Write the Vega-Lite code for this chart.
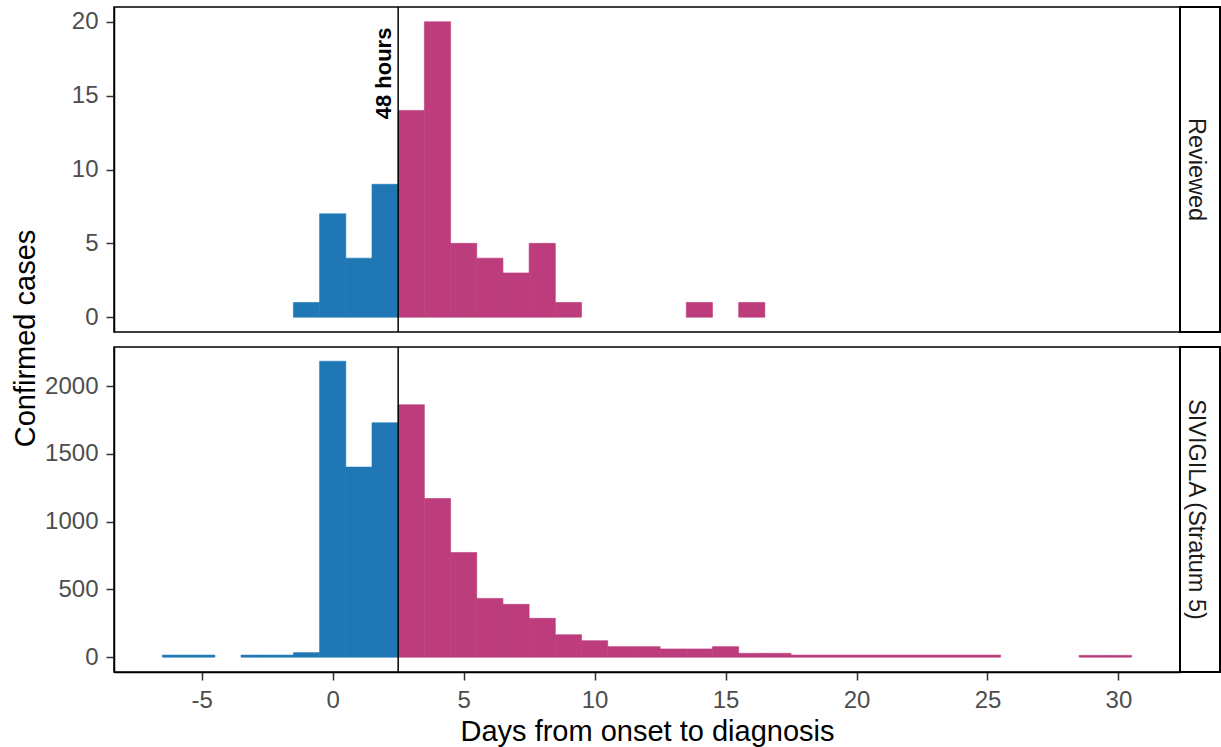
{
  "$schema": "https://vega.github.io/schema/vega-lite/v6.json",
  "background": "white",
  "padding": {"left": 10, "top": 5, "right": 0, "bottom": 0},
  "datasets": {
    "reviewed": [
      {"day": -1, "count": 1}, {"day": 0, "count": 7}, {"day": 1, "count": 4}, {"day": 2, "count": 9},
      {"day": 3, "count": 14}, {"day": 4, "count": 20}, {"day": 5, "count": 5}, {"day": 6, "count": 4},
      {"day": 7, "count": 3}, {"day": 8, "count": 5}, {"day": 9, "count": 1}, {"day": 14, "count": 1},
      {"day": 16, "count": 1}
    ],
    "sivigila": [
      {"day": -6, "count": 16}, {"day": -5, "count": 16}, {"day": -3, "count": 16}, {"day": -2, "count": 16},
      {"day": -1, "count": 34}, {"day": 0, "count": 2184}, {"day": 1, "count": 1403}, {"day": 2, "count": 1730},
      {"day": 3, "count": 1863}, {"day": 4, "count": 1171}, {"day": 5, "count": 773}, {"day": 6, "count": 434},
      {"day": 7, "count": 390}, {"day": 8, "count": 287}, {"day": 9, "count": 166}, {"day": 10, "count": 122},
      {"day": 11, "count": 78}, {"day": 12, "count": 78}, {"day": 13, "count": 61}, {"day": 14, "count": 61},
      {"day": 15, "count": 78}, {"day": 16, "count": 29}, {"day": 17, "count": 29}, {"day": 18, "count": 16},
      {"day": 19, "count": 16}, {"day": 20, "count": 16}, {"day": 21, "count": 16}, {"day": 22, "count": 16},
      {"day": 23, "count": 16}, {"day": 24, "count": 16}, {"day": 25, "count": 16}, {"day": 29, "count": 14},
      {"day": 30, "count": 14}
    ],
    "strips": [{"panel": "Reviewed"}, {"panel": "SIVIGILA (Stratum 5)"}],
    "note": [{"label": "48 hours"}]
  },
  "columns": 2,
  "spacing": {"row": 15, "column": 0},
  "bounds": "flush",
  "concat": [
    {
      "width": 1066,
      "height": 325,
      "layer": [
        {
          "data": {"name": "reviewed"},
          "transform": [{"bin": {"step": 1, "anchor": 0.5, "nice": false, "extent": [-7.5, 31.5]}, "field": "day", "as": ["d0", "d1"]}],
          "mark": {"type": "rect", "strokeWidth": 0.6},
          "encoding": {
            "x": {"field": "d0", "type": "quantitative", "scale": {"domain": [-8.35, 32.35], "nice": false, "zero": false}, "axis": null},
            "x2": {"field": "d1"},
            "y": {"field": "count", "type": "quantitative", "scale": {"domain": [-1, 21], "nice": false, "zero": false},
                  "axis": {"values": [0, 5, 10, 15, 20], "format": "d", "title": "Confirmed cases", "titleY": 331, "titleX": -80, "titleBaseline": "alphabetic", "titleAngle": 270}},
            "y2": {"datum": 0},
            "color": {"condition": {"test": "datum.d0 < 2.5", "value": "#1f78b4"}, "value": "#bc3c7c"},
            "stroke": {"condition": {"test": "datum.d0 < 2.5", "value": "#1f78b4"}, "value": "#bc3c7c"}
          }
        },
        {
          "data": {"name": "note"},
          "mark": {"type": "rule", "color": "black", "strokeWidth": 1.5},
          "encoding": {"x": {"datum": 2.5, "type": "quantitative"}}
        },
        {
          "data": {"name": "note"},
          "mark": {"type": "text", "angle": 270, "align": "center", "baseline": "alphabetic", "dy": -7, "fontSize": 22, "fontWeight": "bold", "color": "black", "font": "Liberation Sans"},
          "encoding": {
            "x": {"datum": 2.5, "type": "quantitative"},
            "y": {"datum": 16.5, "type": "quantitative"},
            "text": {"field": "label"}
          }
        }
      ]
    },
    {
      "width": 40,
      "height": 325,
      "view": {"stroke": "black", "strokeWidth": 2},
      "data": {"name": "strips"},
      "transform": [{"filter": "datum.panel === 'Reviewed'"}],
      "mark": {"type": "text", "angle": 90, "fontSize": 23.5, "color": "#1a1a1a", "align": "center", "baseline": "middle", "dy": 4, "font": "Liberation Sans"},
      "encoding": {"text": {"field": "panel"}}
    },
    {
      "width": 1066,
      "height": 325,
      "layer": [
        {
          "data": {"name": "sivigila"},
          "transform": [{"bin": {"step": 1, "anchor": 0.5, "nice": false, "extent": [-7.5, 31.5]}, "field": "day", "as": ["d0", "d1"]}],
          "mark": {"type": "rect", "strokeWidth": 0.6},
          "encoding": {
            "x": {"field": "d0", "type": "quantitative", "scale": {"domain": [-8.35, 32.35], "nice": false, "zero": false},
                  "axis": {"values": [-5, 0, 5, 10, 15, 20, 25, 30], "labelExpr": "'' + datum.value", "title": "Days from onset to diagnosis", "titleY": 68, "titleBaseline": "alphabetic"}},
            "x2": {"field": "d1"},
            "y": {"field": "count", "type": "quantitative", "scale": {"domain": [-109, 2289], "nice": false, "zero": false},
                  "axis": {"values": [0, 500, 1000, 1500, 2000], "format": "d", "title": null}},
            "y2": {"datum": 0},
            "color": {"condition": {"test": "datum.d0 < 2.5", "value": "#1f78b4"}, "value": "#bc3c7c"},
            "stroke": {"condition": {"test": "datum.d0 < 2.5", "value": "#1f78b4"}, "value": "#bc3c7c"}
          }
        },
        {
          "data": {"name": "note"},
          "mark": {"type": "rule", "color": "black", "strokeWidth": 1.5},
          "encoding": {"x": {"datum": 2.5, "type": "quantitative"}}
        }
      ]
    },
    {
      "width": 40,
      "height": 325,
      "view": {"stroke": "black", "strokeWidth": 2},
      "data": {"name": "strips"},
      "transform": [{"filter": "datum.panel === 'SIVIGILA (Stratum 5)'"}],
      "mark": {"type": "text", "angle": 90, "fontSize": 23.5, "color": "#1a1a1a", "align": "center", "baseline": "middle", "dy": 4, "font": "Liberation Sans"},
      "encoding": {"text": {"field": "panel"}}
    }
  ],
  "config": {
    "font": "Liberation Sans",
    "view": {"stroke": "black", "strokeWidth": 1.5},
    "axis": {
      "grid": false,
      "domainColor": "black",
      "domainWidth": 1.5,
      "tickColor": "#333333",
      "tickWidth": 1.5,
      "tickSize": 8,
      "labelFont": "Liberation Sans",
      "labelFontSize": 24,
      "labelColor": "#4d4d4d",
      "labelPadding": 8,
      "titleFont": "Liberation Sans",
      "titleFontSize": 29,
      "titleFontWeight": "normal",
      "titleColor": "black"
    }
  }
}
